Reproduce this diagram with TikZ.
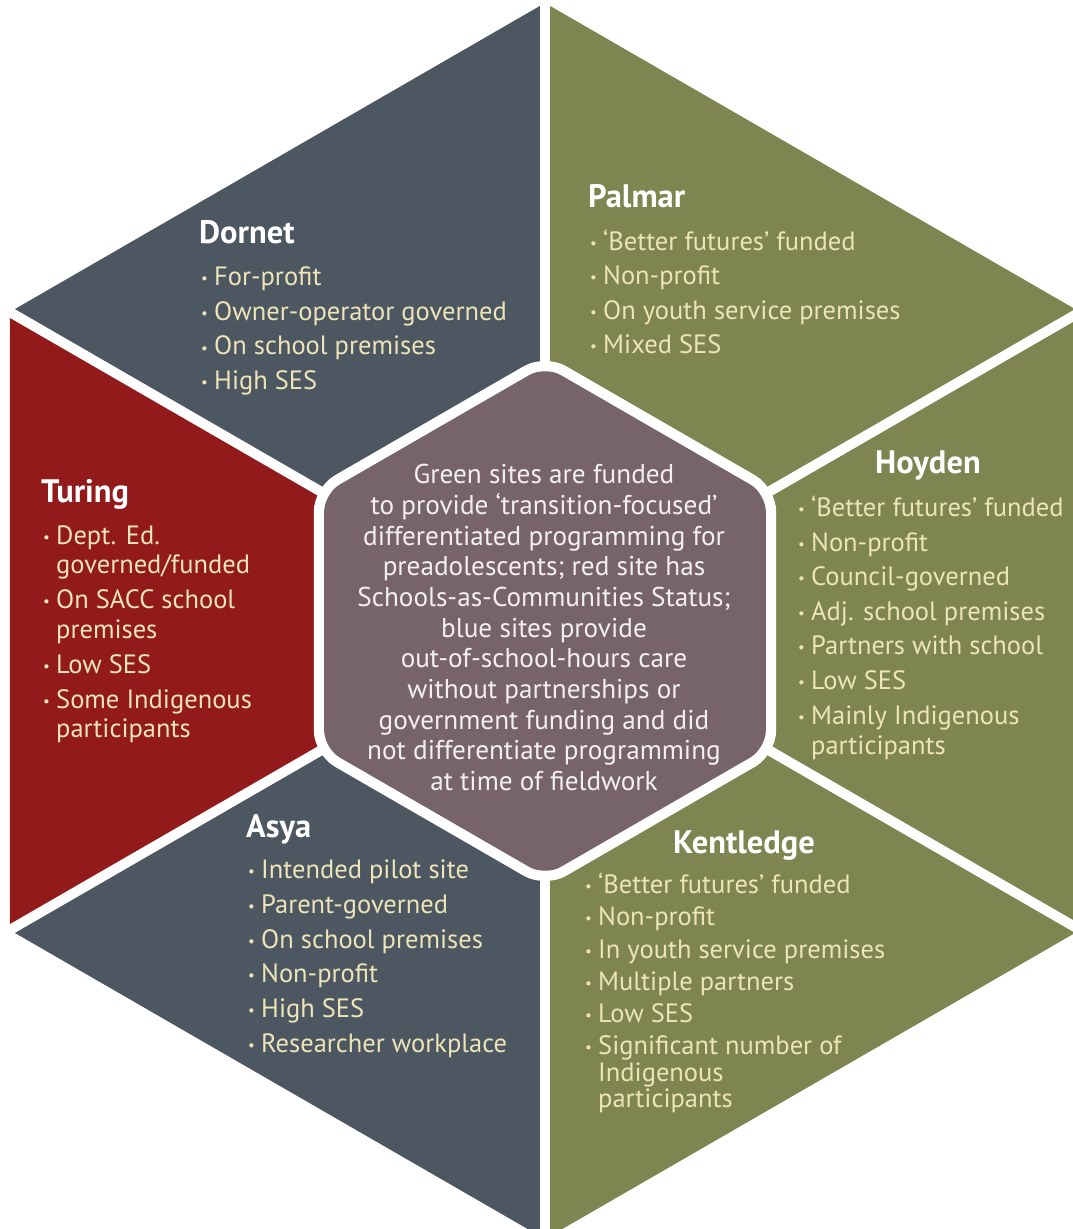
\documentclass[tikz,border=0pt]{standalone}
\usepackage{fontspec}
\setmainfont{PT Sans}
\definecolor{sblue}{HTML}{4D5762}
\definecolor{sgreen}{HTML}{7E8551}
\definecolor{sred}{HTML}{921A1B}
\definecolor{smauve}{HTML}{77646A}
\definecolor{cream}{HTML}{EDE5B8}
\definecolor{ctext}{HTML}{F4F0F0}
\newcommand\bul{\makebox[13pt][l]{\raisebox{1.5pt}{\fontsize{15}{15}\selectfont\textbullet}}}
\tikzset{
  ttl/.style={anchor=base west, text=white, font=\fontsize{32.5}{38}\selectfont\bfseries, inner sep=0pt},
  itm/.style={anchor=base west, text=cream, font=\fontsize{26.5}{30}\selectfont, inner sep=0pt},
  ctr/.style={anchor=base, text=ctext, font=\fontsize{27.2}{30}\selectfont, inner sep=0pt},
  spoke/.style={white, line width=10pt},
}
\newcommand\bi[4]{\node[itm] (#1) at (#2,#3) {\bul #4};}
\newcommand\ci[4]{\node[itm] (#1) at (#2,#3) {#4};}
\begin{document}
\begin{tikzpicture}[x=1pt,y=-1pt]
\useasboundingbox (0,0) rectangle (1073,1229);
\clip (0,0) rectangle (1073,1229);
\coordinate (C) at (545,621);
\coordinate (T) at (545,3);
\coordinate (UR) at (1080.2,312);
\coordinate (LR) at (1080.2,930);
\coordinate (B) at (545,1239);
\coordinate (LL) at (9.8,930);
\coordinate (UL) at (9.8,312);
% sectors
\fill[sblue, rounded corners=6pt] (C) -- (T) -- (UL) -- cycle;
\fill[sred, rounded corners=6pt] (C) -- (UL) -- (LL) -- cycle;
\fill[sblue, rounded corners=6pt] (C) -- (LL) -- (B) -- cycle;
\fill[sgreen, rounded corners=6pt] (C) -- (B) -- (LR) -- cycle;
\fill[sgreen, rounded corners=6pt] (C) -- (LR) -- (UR) -- cycle;
\fill[sgreen, rounded corners=6pt] (C) -- (UR) -- (T) -- cycle;
% spokes
\foreach \v in {T,UR,LR,B,LL,UL} \draw[spoke] (C) -- (\v);
% central hexagon
\fill[white, rounded corners=24pt] (C) ++(90:267) -- ++(210:267) -- ++(270:267) -- ++(330:267) -- ++(30:267) -- ++(90:267) -- cycle;
\fill[smauve, rounded corners=18pt] (C) ++(90:255) -- ++(210:255) -- ++(270:255) -- ++(330:255) -- ++(30:255) -- ++(90:255) -- cycle;
% centre text
\node[ctr] (c1) at (544,483) {Green sites are funded};
\node[ctr] (c2) at (544,514) {to provide ‘transition-focused’};
\node[ctr] (c3) at (544,545) {differentiated programming for};
\node[ctr] (c4) at (544,575) {preadolescents; red site has};
\node[ctr] (c5) at (544,606) {Schools-as-Communities Status;};
\node[ctr] (c6) at (544,637) {blue sites provide};
\node[ctr] (c7) at (544,667) {out-of-school-hours care};
\node[ctr] (c8) at (544,698) {without partnerships or};
\node[ctr] (c9) at (544,729) {government funding and did};
\node[ctr] (c10) at (544,759) {not differentiate programming};
\node[ctr] (c11) at (544,790) {at time of fieldwork};
% Dornet
\node[ttl] (dt) at (199,243) {Dornet};
\bi{d1}{201}{285}{For-profit}
\bi{d2}{201}{320}{Owner-operator governed}
\bi{d3}{201}{354.5}{On school premises}
\bi{d4}{201}{389}{High SES}
% Palmar
\node[ttl] (pt) at (588,207) {Palmar};
\bi{p1}{590}{250}{‘Better futures’ funded}
\bi{p2}{590}{284}{Non-profit}
\bi{p3}{590}{319}{On youth service premises}
\bi{p4}{590}{353}{Mixed SES}
% Hoyden
\node[ttl] (ht) at (875,473) {Hoyden};
\bi{h1}{798}{516}{‘Better futures’ funded}
\bi{h2}{798}{551}{Non-profit}
\bi{h3}{798}{585}{Council-governed}
\bi{h4}{798}{620}{Adj. school premises}
\bi{h5}{798}{654}{Partners with school}
\bi{h6}{798}{689}{Low SES}
\bi{h7}{798}{724}{Mainly Indigenous}
\ci{h8}{811}{754}{participants}
% Turing
\node[ttl] (tt) at (41,502) {Turing};
\bi{t1}{43}{544}{Dept. Ed.}
\ci{t2}{56}{573}{governed/funded}
\bi{t3}{43}{608}{On SACC school}
\ci{t4}{56}{638}{premises}
\bi{t5}{43}{673}{Low SES}
\bi{t6}{43}{708}{Some Indigenous}
\ci{t7}{56}{737}{participants}
% Asya
\node[ttl] (at) at (246,837) {Asya};
\bi{a1}{248}{878}{Intended pilot site}
\bi{a2}{248}{913}{Parent-governed}
\bi{a3}{248}{948}{On school premises}
\bi{a4}{248}{982}{Non-profit}
\bi{a5}{248}{1017}{High SES}
\bi{a6}{248}{1052}{Researcher workplace}
% Kentledge
\node[ttl] (kt) at (673,853) {Kentledge};
\bi{k1}{585}{893}{‘Better futures’ funded}
\bi{k2}{585}{925}{Non-profit}
\bi{k3}{585}{958}{In youth service premises}
\bi{k4}{585}{990}{Multiple partners}
\bi{k5}{585}{1022}{Low SES}
\bi{k6}{585}{1054}{Significant number of}
\ci{k7}{598}{1081}{Indigenous}
\ci{k8}{598}{1107}{participants}
\end{tikzpicture}
\end{document}
